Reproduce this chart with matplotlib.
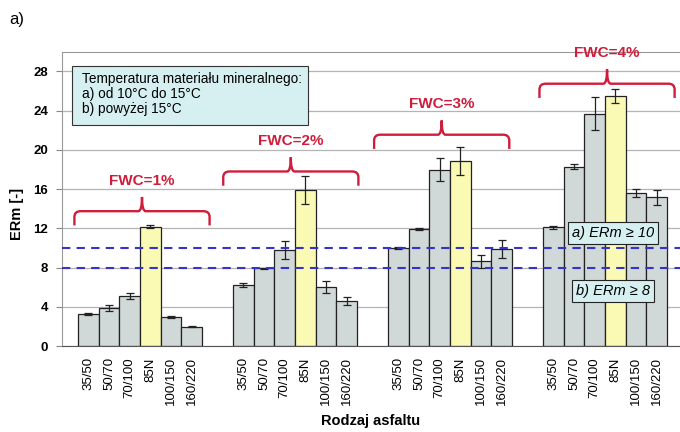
import numpy as np
import matplotlib.pyplot as plt
from matplotlib.path import Path
from matplotlib.patches import PathPatch, Rectangle

plt.rcParams['font.family'] = ['Liberation Sans', 'DejaVu Sans']

# bitumen grades, same order in every FWC group
grades = ['35/50', '50/70', '70/100', '85N', '100/150', '160/220']
groups = ['FWC=1%', 'FWC=2%', 'FWC=3%', 'FWC=4%']

# mean ERm per group (rows) and grade (columns)
erm = [
    [3.3, 3.9, 5.1, 12.15, 3.0, 1.95],
    [6.2, 7.95, 9.8, 15.9, 6.0, 4.6],
    [9.95, 11.9, 18.0, 18.85, 8.65, 9.9],
    [12.1, 18.3, 23.7, 25.5, 15.6, 15.15],
]
erm_err = [
    [0.1, 0.3, 0.3, 0.15, 0.1, 0.05],
    [0.2, 0.05, 0.9, 1.4, 0.6, 0.4],
    [0.1, 0.1, 1.15, 1.4, 0.65, 0.9],
    [0.15, 0.25, 1.7, 0.7, 0.45, 0.8],
]

# threshold levels for the two aggregate temperature ranges
thresholds = [10, 8]
threshold_labels = ['a) ERm \u2265 10', 'b) ERm \u2265 8']

# brace annotations over each group
brace_x = [2.6, 9.8, 17.1, 25.1]
brace_y = [13.75, 17.8, 21.55, 26.75]

gap = 7.5
grey = '#d1d8d8'
yellow = '#fafab4'
red = '#cf1d3b'
box_fc = '#d6eff1'


def draw_brace(ax, xc, y, half=3.27, drop=1.45, tip=1.45, rx=0.3, ry=0.6, tx=0.18):
    x0, x1 = xc - half, xc + half
    verts = [
        (x0, y - drop), (x0, y - ry),
        (x0, y), (x0 + rx, y),
        (xc - tx, y),
        (xc, y), (xc, y + tip),
        (xc, y), (xc + tx, y),
        (x1 - rx, y),
        (x1, y), (x1, y - ry),
        (x1, y - drop),
    ]
    codes = [Path.MOVETO, Path.LINETO,
             Path.CURVE3, Path.CURVE3,
             Path.LINETO,
             Path.CURVE3, Path.CURVE3,
             Path.CURVE3, Path.CURVE3,
             Path.LINETO,
             Path.CURVE3, Path.CURVE3,
             Path.LINETO]
    ax.add_patch(PathPatch(Path(verts, codes), fill=False, edgecolor=red,
                           linewidth=1.7, zorder=4, capstyle='butt'))


fig = plt.figure(figsize=(6.8, 4.32), dpi=100)
ax = fig.add_axes([0.0912, 0.199, 0.9088, 0.681])

positions = []
labels = []
for g, name in enumerate(groups):
    x = g * gap + np.arange(len(grades))
    colors = [yellow if gr == '85N' else grey for gr in grades]
    ax.bar(x, erm[g], width=1.0, color=colors, edgecolor='#222222',
           linewidth=0.9, zorder=2)
    ax.errorbar(x, erm[g], yerr=erm_err[g], fmt='none', ecolor='#222222',
                elinewidth=0.9, capsize=3, capthick=0.9, zorder=3)
    positions.extend(x)
    labels.extend(grades)

    draw_brace(ax, brace_x[g], brace_y[g])
    ax.text(brace_x[g], brace_y[g] + 3.1, name, color=red, fontsize=11,
            fontweight='bold', ha='center', va='center', zorder=5)

for level in thresholds:
    ax.axhline(level, color='#3434cc', linestyle=(0, (4, 3)), linewidth=1.5,
               zorder=4)

for lab, yy in zip(threshold_labels, [11.56, 5.6]):
    ax.text(25.4, yy, lab, fontsize=10.5, fontstyle='italic', ha='center',
            va='center', zorder=6,
            bbox=dict(boxstyle='square,pad=0.28', fc=box_fc, ec='#222222',
                      lw=0.8))

# legend-like box with aggregate temperature info
ax.add_patch(Rectangle((0.016, 0.752), 0.382, 0.2, transform=ax.transAxes,
                       facecolor=box_fc, edgecolor='#333333', linewidth=0.8,
                       zorder=6))
ax.text(0.032, 0.93,
        'Temperatura materiału mineralnego:\na) od 10\u00b0C do 15\u00b0C\nb) powyżej 15\u00b0C',
        transform=ax.transAxes, fontsize=9.8, va='top', ha='left',
        linespacing=1.05, zorder=7)

ax.set_xlim(-1.27, 28.63)
ax.set_ylim(0, 30)
ax.set_yticks(np.arange(0, 29, 4))
ax.set_xticks(positions)
ax.set_xticklabels(labels, rotation=90, fontsize=9.5)
ax.tick_params(axis='x', length=0, pad=8)
ax.tick_params(axis='y', length=4, color='#888888', pad=6)
for t in ax.get_yticklabels():
    t.set_fontweight('bold')
    t.set_fontsize(9.5)

ax.grid(axis='y', color='#b4b4b4', linewidth=0.9, zorder=0)
ax.set_axisbelow(True)
for side in ['left', 'top']:
    ax.spines[side].set_color('#999999')
ax.spines['right'].set_visible(False)
ax.spines['bottom'].set_color('#555555')

ax.set_ylabel('ERm [-]', fontsize=10.5, fontweight='bold')
ax.yaxis.set_label_coords(-0.062, 0.45)
ax.set_xlabel('Rodzaj asfaltu', fontsize=10.5, fontweight='bold', labelpad=6)

fig.text(0.013, 0.955, 'a)', fontsize=12, va='center')

fig.savefig('out.png', dpi=100)
